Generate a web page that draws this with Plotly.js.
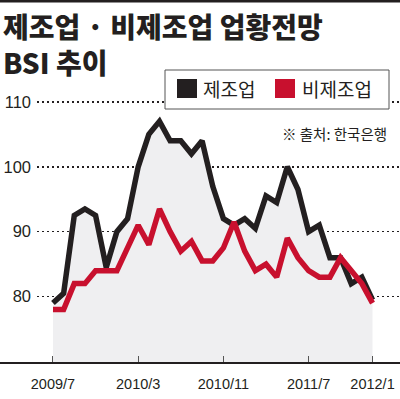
<!DOCTYPE html>
<html>
<head>
<meta charset="utf-8">
<script src="https://cdn.plot.ly/plotly-3.0.1.min.js"></script>
<style>html,body{margin:0;padding:0;background:#fff;}#chart{width:400px;height:399px;}</style>
</head>
<body>
<div id="chart"></div>
<script>
const months = ['2009/7','2009/8','2009/9','2009/10','2009/11','2009/12',
  '2010/1','2010/2','2010/3','2010/4','2010/5','2010/6','2010/7','2010/8','2010/9','2010/10','2010/11','2010/12',
  '2011/1','2011/2','2011/3','2011/4','2011/5','2011/6','2011/7','2011/8','2011/9','2011/10','2011/11','2011/12',
  '2012/1'];
const manufacturing = [79, 80.5, 92.5, 93.5, 92.5, 84.5, 90, 92, 100, 105, 107, 104, 104, 102, 104, 97, 92, 91,
  92, 90.5, 95.5, 94.5, 100, 96.5, 90, 91, 86, 86, 82, 83, 79.5];
const nonManufacturing = [78, 78, 82, 82, 84, 84, 84, 87.5, 91, 88, 93.5, 90, 87, 88.5, 85.5, 85.5, 87.5, 91.5,
  87, 84, 85, 83, 89, 86, 84, 83, 83, 86, 84, 82, 79];
const xTickLabels = ['2009/7','2010/3','2010/11','2011/7','2012/1'];
const yTicks = [80, 90, 100, 110];
const seriesNames = ['제조업', '비제조업'];
const titleLines = ['제조업 · 비제조업 업황전망', 'BSI 추이'];
const sourceText = '※ 출처: 한국은행';

const BLACK = '#231f20', RED = '#c8102e';
const ML = 37, MT = 95, W = 400, H = 399, MB = 36;
const PW = W - ML, PH = H - MT - MB;
const px = p => (p - ML) / PW;
const py = p => (H - MB - p) / PH;

const traces = [
  {x: months, y: manufacturing, name: seriesNames[0], type: 'scatter', mode: 'lines',
   line: {color: BLACK, width: 5.5}, fill: 'tozeroy', fillcolor: '#efeff1', hoverinfo: 'skip'},
  {x: months, y: nonManufacturing, name: seriesNames[1], type: 'scatter', mode: 'lines',
   line: {color: RED, width: 5.5}, hoverinfo: 'skip'}
];

const num = '"Liberation Sans", Arial, sans-serif';
const kr = '"Noto Sans CJK KR", "Noto Sans", sans-serif';

const layout = {
  width: W, height: H,
  margin: {l: ML, r: 0, t: MT, b: MB, pad: 0},
  paper_bgcolor: '#fff', plot_bgcolor: '#fff',
  showlegend: false,
  xaxis: {
    type: 'category', range: [-1.5, 32.58],
    tickmode: 'array', tickvals: xTickLabels, ticktext: xTickLabels,
    ticks: 'inside', ticklen: 7, tickwidth: 1, tickcolor: '#555',
    showgrid: false, zeroline: false, showline: false,
    tickfont: {family: num, size: 14.5, color: BLACK},
    ticklabelstandoff: 10
  },
  yaxis: {
    range: [69.77, 111.06], tickmode: 'array', tickvals: yTicks,
    ticks: '', showline: false, zeroline: false,
    showgrid: true, gridcolor: BLACK, gridwidth: 1.6, griddash: '2px,3px',
    tickfont: {family: num, size: 16.5, color: BLACK},
    ticklabelstandoff: 5
  },
  shapes: [
    {type: 'rect', xref: 'paper', yref: 'paper', x0: px(0), x1: px(400), y0: py(0), y1: py(2.5),
     fillcolor: BLACK, line: {width: 0}},
    {type: 'line', xref: 'paper', yref: 'paper', x0: px(0), x1: px(400), y0: 0, y1: 0,
     line: {color: BLACK, width: 2}},
    {type: 'rect', xref: 'paper', yref: 'paper', x0: px(165), x1: px(389), y0: py(109), y1: py(70),
     fillcolor: '#fff', line: {color: '#555', width: 1}},
    {type: 'rect', xref: 'paper', yref: 'paper', x0: px(177), x1: px(197), y0: py(98), y1: py(79),
     fillcolor: BLACK, line: {width: 0}},
    {type: 'rect', xref: 'paper', yref: 'paper', x0: px(275), x1: px(295), y0: py(98), y1: py(79),
     fillcolor: RED, line: {width: 0}}
  ],
  annotations: [
    {text: titleLines.join('<br>'), xref: 'paper', yref: 'paper', x: px(1), y: py(44), xanchor: 'left', yanchor: 'middle',
     align: 'left', showarrow: false, font: {family: kr, size: 28, weight: 900, color: BLACK}},
    {text: seriesNames[0], xref: 'paper', yref: 'paper', x: px(201), y: py(88.5), xanchor: 'left', yanchor: 'middle',
     showarrow: false, font: {family: kr, size: 19, color: BLACK}},
    {text: seriesNames[1], xref: 'paper', yref: 'paper', x: px(300), y: py(88.5), xanchor: 'left', yanchor: 'middle',
     showarrow: false, font: {family: kr, size: 19, color: BLACK}},
    {text: sourceText, xref: 'paper', yref: 'paper', x: px(389), y: py(133), xanchor: 'right', yanchor: 'middle',
     showarrow: false, font: {family: kr, size: 14.5, color: BLACK}}
  ]
};

Plotly.newPlot('chart', traces, layout, {staticPlot: true, displayModeBar: false});
</script>
</body>
</html>
